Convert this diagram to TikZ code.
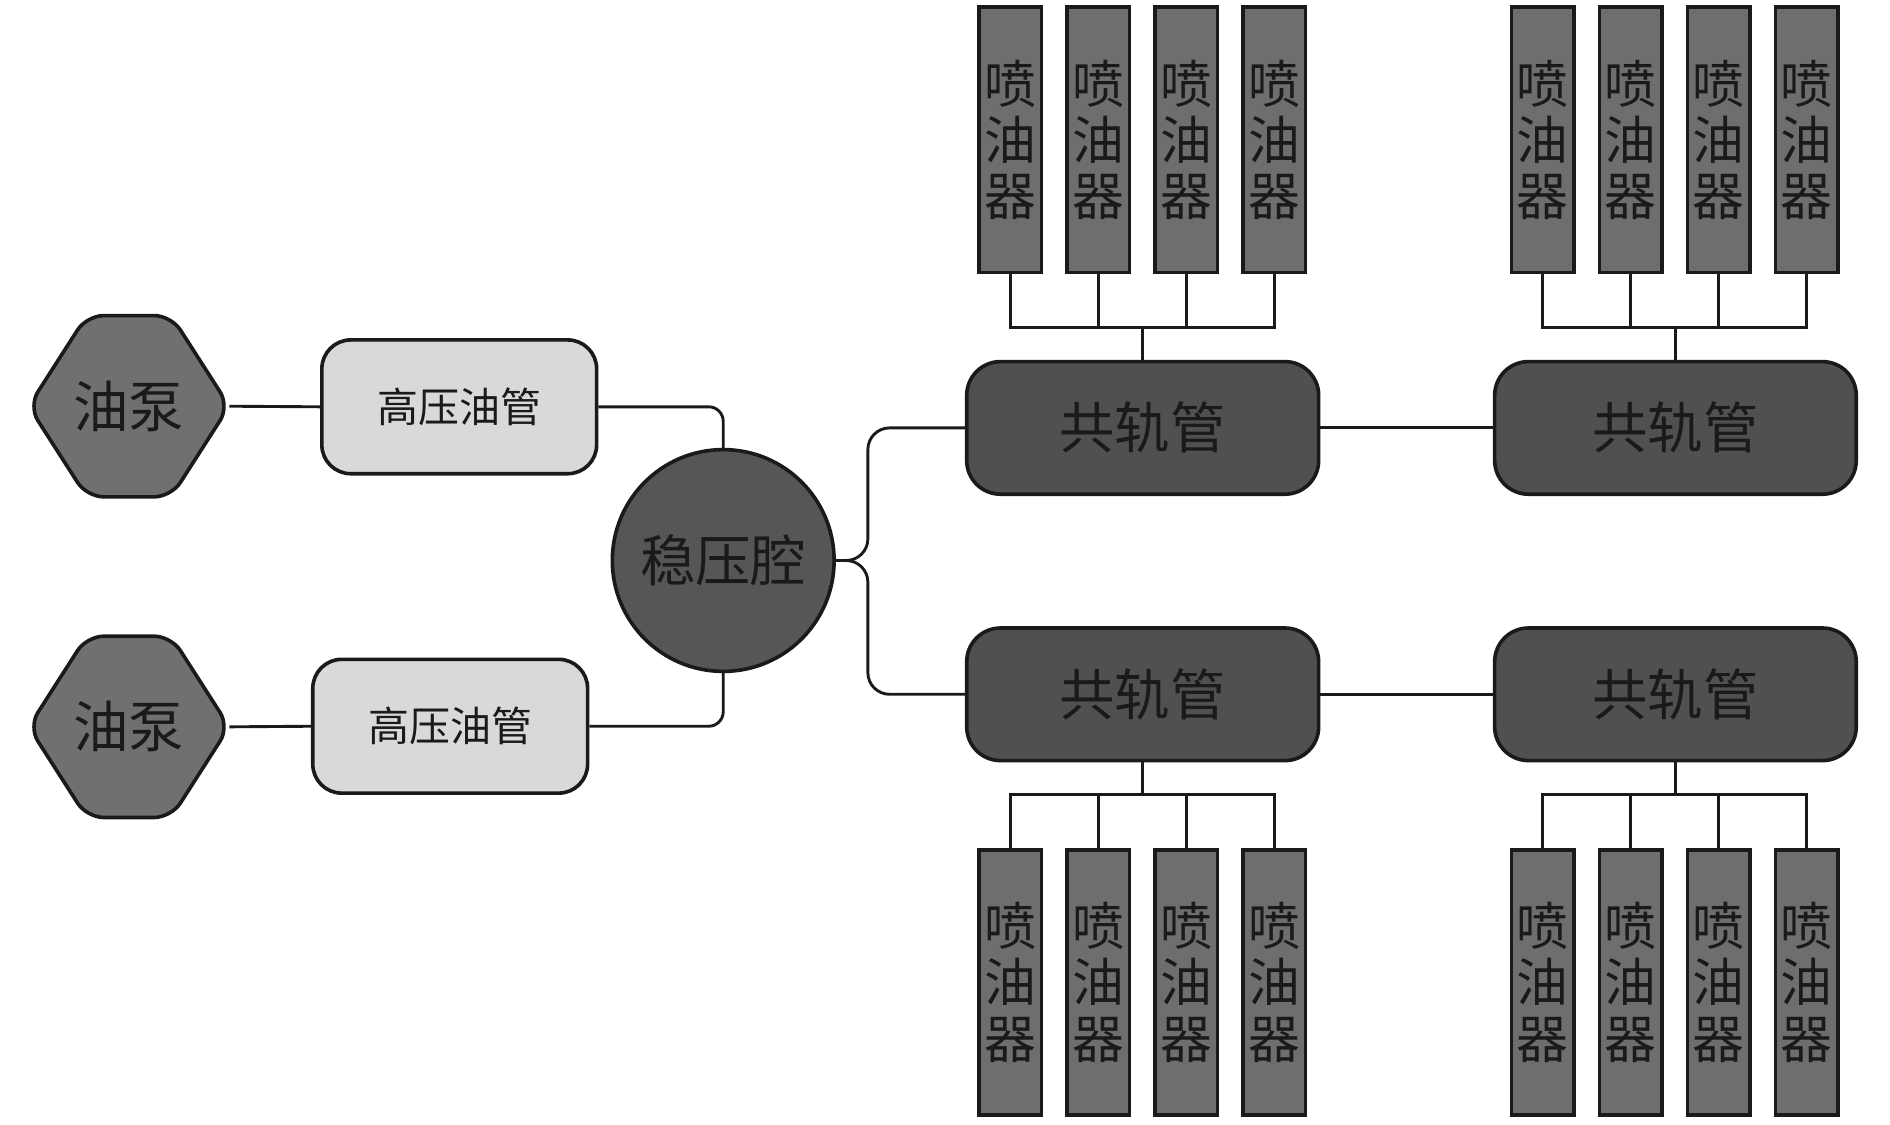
\documentclass[tikz,border=0pt]{standalone}
\usepackage{fontspec}
\newfontfamily\cjk{Noto Sans CJK SC}
\usetikzlibrary{calc}
\definecolor{hexfill}{HTML}{707070}
\definecolor{circfill}{HTML}{565656}
\definecolor{railfill}{HTML}{505050}
\definecolor{injfill}{HTML}{6E6E6E}
\definecolor{pipefill}{HTML}{D9D9D9}
\definecolor{ink}{HTML}{1A1A1A}
\begin{document}
\begin{tikzpicture}[x=1pt,y=-1pt,
  conn/.style={line width=2.4pt, draw=ink},
  bord/.style={line width=3pt, draw=ink},
  hexlbl/.style={inner sep=0pt, minimum width=166pt, minimum height=150pt, text=ink, font=\cjk\fontsize{46}{50}\selectfont},
  pipebox/.style={bord, fill=pipefill, rounded corners=24pt, minimum width=228pt, minimum height=111pt, inner sep=0pt, text=ink, font=\cjk\fontsize{34}{40}\selectfont},
  chamber/.style={bord, fill=circfill, circle, minimum size=184pt, inner sep=0pt, text=ink, font=\cjk\fontsize{46}{50}\selectfont},
  railbox/.style={bord, fill=railfill, rounded corners=28pt, minimum height=110pt, inner sep=0pt, text=ink, font=\cjk\fontsize{46}{50}\selectfont},
  injbox/.style={bord, fill=injfill, minimum width=52pt, minimum height=220pt, inner sep=0pt, align=center, text=ink, font=\cjk\fontsize{43}{46.5}\selectfont}
]
\useasboundingbox (0,0) rectangle (1568,932.5);

% pumps
\foreach \n/\y in {p1/337, p2/603}{
  \node[hexlbl] (\n) at (107,\y) {};
  \draw[bord, fill=hexfill, rounded corners=14pt]
    (\n.west) -- ($(\n.north)+(-35,0)$) -- ($(\n.north)+(35,0)$) -- (\n.east)
    -- ($(\n.south)+(35,0)$) -- ($(\n.south)+(-35,0)$) -- cycle;
  \node[hexlbl] at (\n.center) {油泵};
}

% high pressure pipes
\node[pipebox] (h1) at (381,337.5) {高压油管};
\node[pipebox] (h2) at (373.5,602.5) {高压油管};

% chamber
\node[chamber] (s) at (600,465) {稳压腔};

% rails
\node[railbox, minimum width=292pt] (r1) at (948,355) {共轨管};
\node[railbox, minimum width=300pt] (r2) at (1390,355) {共轨管};
\node[railbox, minimum width=292pt] (r3) at (948,576) {共轨管};
\node[railbox, minimum width=300pt] (r4) at (1390,576) {共轨管};

% connectors left part
\draw[conn] (p1.east) -- (h1.west);
\draw[conn] (p2.east) -- (h2.west);
\draw[conn, rounded corners=12pt] (h1.east) -| (s.north);
\draw[conn, rounded corners=12pt] (h2.east) -| (s.south);
\draw[conn, rounded corners=18pt] (s.east) -- (720,465) |- (r1.west);
\draw[conn, rounded corners=18pt] (s.east) -- (720,465) |- (r3.west);
\draw[conn] (r1.east) -- (r2.west);
\draw[conn] (r3.east) -- (r4.west);

% injectors
\foreach \g/\bx/\iy/\busy/\r/\ia/\ra in {A/838/116/272/r1/south/north, B/1280/116/272/r2/south/north, C/838/815/659/r3/north/south, D/1280/815/659/r4/north/south}{
  \foreach \k in {0,1,2,3}{
    \node[injbox] (\g\k) at (\bx+73*\k,\iy) {喷\\油\\器};
  }
  \draw[conn] (\g0.\ia) -- (\g0.\ia |- 0,\busy) -- (\g3.\ia |- 0,\busy) -- (\g3.\ia);
  \draw[conn] (\g1.\ia) -- (\g1.\ia |- 0,\busy);
  \draw[conn] (\g2.\ia) -- (\g2.\ia |- 0,\busy);
  \draw[conn] (\r.\ra) -- (\r.\ra |- 0,\busy);
}
\end{tikzpicture}
\end{document}
